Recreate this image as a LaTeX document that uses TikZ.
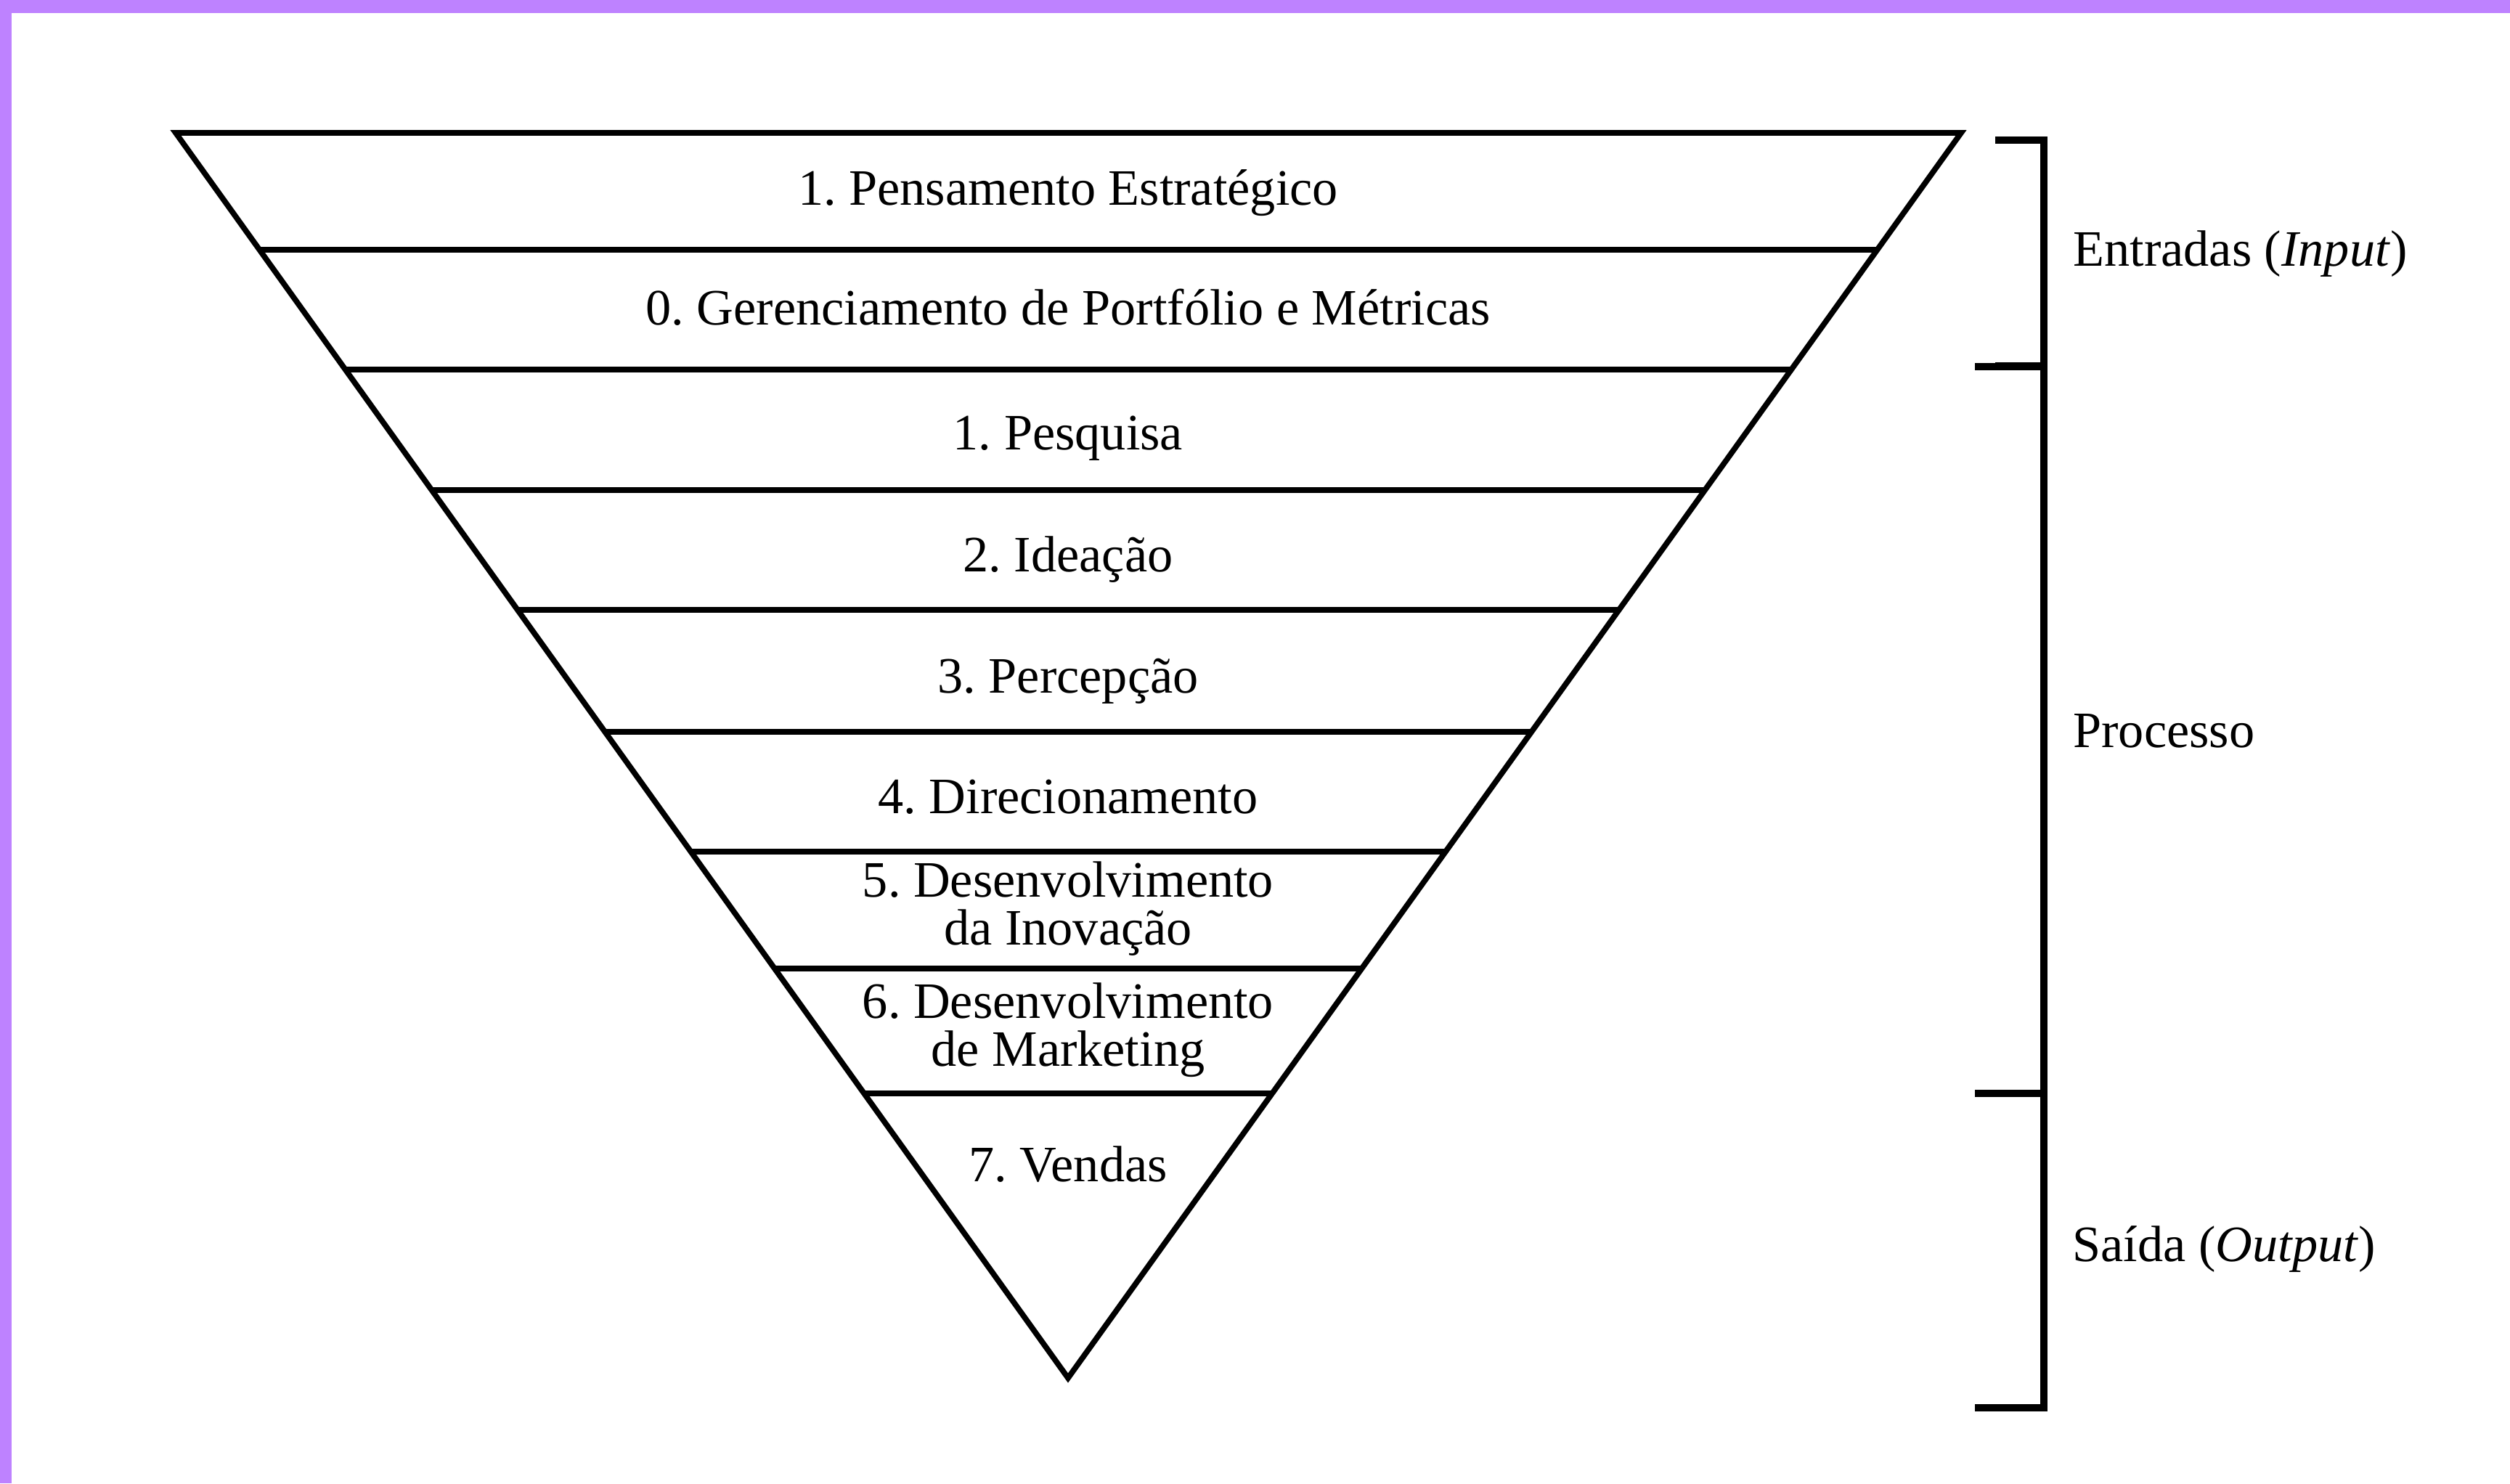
\documentclass[tikz,border=0pt]{standalone}
\usepackage{fontspec}
\setmainfont{Liberation Serif}
\usepackage{tikz}
\usetikzlibrary{calc}
\definecolor{moldura}{RGB}{190,130,255}
\frenchspacing

\tikzset{
  etapa/.style={anchor=base,font=\fontsize{10}{9.4}\selectfont},
  etapadupla/.style={align=center,font=\fontsize{10}{9.4}\selectfont},
  rotulo/.style={anchor=base west,inner sep=0pt,font=\fontsize{10}{12}\selectfont},
  chave/.style={line width=1.5pt},
}

\begin{document}
\begin{tikzpicture}
\useasboundingbox (0,0) rectangle (17.285,-10.215);
\fill[moldura] (0,0) rectangle (17.285,-0.09);
\fill[moldura] (0,0) rectangle (0.08,-10.215);

% funil
\coordinate (tl) at (1.21,-0.915);
\coordinate (tr) at (13.505,-0.915);
\coordinate (v) at (7.355,-9.49);

\draw[line width=1.1pt] (tl) -- (tr) -- (v) -- cycle;
\foreach \t in {0.0939,0.1901,0.2869,0.3831,0.4810,0.5773,0.6711,0.7714}{
  \draw[line width=1.1pt] ($(tl)!\t!(v)$) -- ($(tr)!\t!(v)$);
};

\node[etapa] (pe) at (7.355,-1.41) {1. Pensamento Estratégico};
\node[etapa] (gp) at (7.355,-2.235) {0. Gerenciamento de Portfólio e Métricas};
\node[etapa] (pq) at (7.355,-3.095) {1. Pesquisa};
\node[etapa] (id) at (7.355,-3.935) {2. Ideação};
\node[etapa] (pc) at (7.355,-4.77) {3. Percepção};
\node[etapa] (dr) at (7.355,-5.60) {4. Direcionamento};
\node[etapadupla] (di) at (7.355,-6.26) {5. Desenvolvimento\\da Inovação};
\node[etapadupla] (dm) at (7.355,-7.095) {6. Desenvolvimento\\de Marketing};
\node[etapa] (vd) at (7.355,-8.135) {7. Vendas};

% chaves
\coordinate (e1) at (13.74,-0.965);
\coordinate (e2) at (13.74,-2.52);
\coordinate (p1) at (13.6,-2.525);
\coordinate (p2) at (13.6,-7.53);
\coordinate (s2) at (13.6,-9.695);

\draw[chave] (e1) -- ++(0.335,0) |- (e2);
\draw[chave] (p1) -- ++(0.475,0) |- (p2);
\draw[chave] (p2) -- ++(0.475,0) |- (s2);

\node[rotulo] (ent) at (14.27,-1.83) {Entradas (\textit{Input})};
\node[rotulo] (pro) at (14.27,-5.145) {Processo};
\node[rotulo] (sai) at (14.265,-8.685) {Saída (\textit{Output})};

\end{tikzpicture}
\end{document}
